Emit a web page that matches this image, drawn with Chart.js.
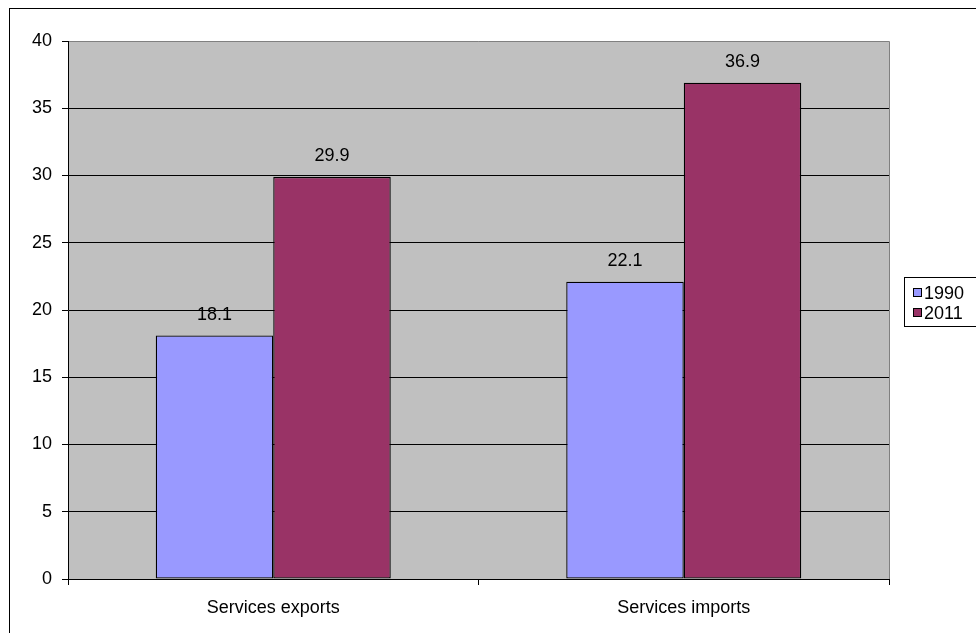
<!DOCTYPE html>
<html>
<head>
<meta charset="utf-8">
<script src="https://cdn.jsdelivr.net/npm/chart.js@4"></script>
<style>
html,body{margin:0;padding:0;background:#fff;}
#wrap{width:976px;height:633px;position:relative;}
</style>
</head>
<body>
<div id="wrap"><canvas id="c" width="976" height="633"></canvas></div>
<script>
const categories = ["Services exports", "Services imports"];
const seriesNames = ["1990", "2011"];
const values1990 = [18.1, 22.1];
const values2011 = [29.9, 36.9];
const yTicks = [0, 5, 10, 15, 20, 25, 30, 35, 40];

const FONT = "'Liberation Sans', Arial, sans-serif";
const FS = 18;

const bgPlugin = {
  id: 'bg',
  beforeDraw(chart) {
    const {ctx, chartArea: a} = chart;
    ctx.save();
    ctx.fillStyle = '#fff';
    ctx.fillRect(0, 0, chart.width, chart.height);
    ctx.strokeStyle = '#000';
    ctx.lineWidth = 1;
    ctx.strokeRect(9.5, 8.5, 1200, 800);
    ctx.fillStyle = '#C0C0C0';
    ctx.fillRect(a.left, a.top, a.right - a.left, a.bottom - a.top);
    ctx.strokeStyle = '#808080';
    ctx.beginPath();
    ctx.moveTo(a.left, a.top + 0.5);
    ctx.lineTo(a.right + 0.5, a.top + 0.5);
    ctx.lineTo(a.right + 0.5, a.bottom);
    ctx.stroke();
    ctx.restore();
  }
};

const labelPlugin = {
  id: 'vals',
  afterDatasetsDraw(chart) {
    const {ctx} = chart;
    ctx.save();
    ctx.font = FS + 'px ' + FONT;
    ctx.fillStyle = '#000';
    ctx.textAlign = 'center';
    ctx.textBaseline = 'middle';
    chart.data.datasets.forEach((ds, i) => {
      chart.getDatasetMeta(i).data.forEach((bar, j) => {
        ctx.fillText(ds.data[j].toFixed(1), bar.x, bar.y - 21);
      });
    });
    ctx.restore();
  }
};

const legendPlugin = {
  id: 'customLegend',
  afterDraw(chart) {
    const {ctx} = chart;
    ctx.save();
    ctx.fillStyle = '#fff';
    ctx.fillRect(904, 277, 200, 50);
    ctx.strokeStyle = '#000';
    ctx.lineWidth = 1;
    ctx.strokeRect(904.5, 277.5, 200, 49);
    ctx.font = FS + 'px ' + FONT;
    ctx.textBaseline = 'middle';
    ctx.textAlign = 'left';
    chart.data.datasets.forEach((ds, i) => {
      const cy = 293 + i * 20;
      ctx.fillStyle = ds.backgroundColor;
      ctx.fillRect(913.5, cy - 4.5, 8, 8);
      ctx.strokeStyle = '#000';
      ctx.strokeRect(913.5, cy - 4.5, 8, 8);
      ctx.fillStyle = '#000';
      ctx.fillText(ds.label, 924, cy + 1);
    });
    ctx.restore();
  }
};

new Chart(document.getElementById('c'), {
  type: 'bar',
  data: {
    labels: categories,
    datasets: [
      { label: seriesNames[0], data: values1990, backgroundColor: '#9999FF', borderColor: '#000', borderWidth: 1.3, borderSkipped: false },
      { label: seriesNames[1], data: values2011, backgroundColor: '#993366', borderColor: '#000', borderWidth: 1.3, borderSkipped: false }
    ]
  },
  options: {
    responsive: false,
    animation: false,
    devicePixelRatio: 1,
    layout: { padding: { left: 0, top: 41, right: 87, bottom: 0 } },
    datasets: { bar: { categoryPercentage: 0.5725, barPercentage: 1 } },
    plugins: { legend: { display: false }, tooltip: { enabled: false }, title: { display: false } },
    scales: {
      x: {
        grid: { display: true, offset: true, drawOnChartArea: false, drawTicks: true, tickLength: 6, tickColor: '#000', lineWidth: 1 },
        border: { color: '#000', width: 1 },
        ticks: { color: '#000', font: { family: FONT, size: FS }, padding: 12, maxRotation: 0 },
        afterFit(s) { s.height = 54; }
      },
      y: {
        min: 0, max: 40,
        afterBuildTicks(s) { s.ticks = yTicks.map(v => ({ value: v })); },
        grid: {
          drawTicks: true, tickLength: 6,
          color: ctx => (ctx.tick && (ctx.tick.value === 40 || ctx.tick.value === 0)) ? 'rgba(0,0,0,0)' : '#000',
          tickColor: '#000', lineWidth: 1
        },
        border: { color: '#000', width: 1 },
        ticks: { color: '#000', font: { family: FONT, size: FS }, padding: 10 },
        afterFit(s) { s.width = 68; }
      }
    }
  },
  plugins: [bgPlugin, labelPlugin, legendPlugin]
});
</script>
</body>
</html>
